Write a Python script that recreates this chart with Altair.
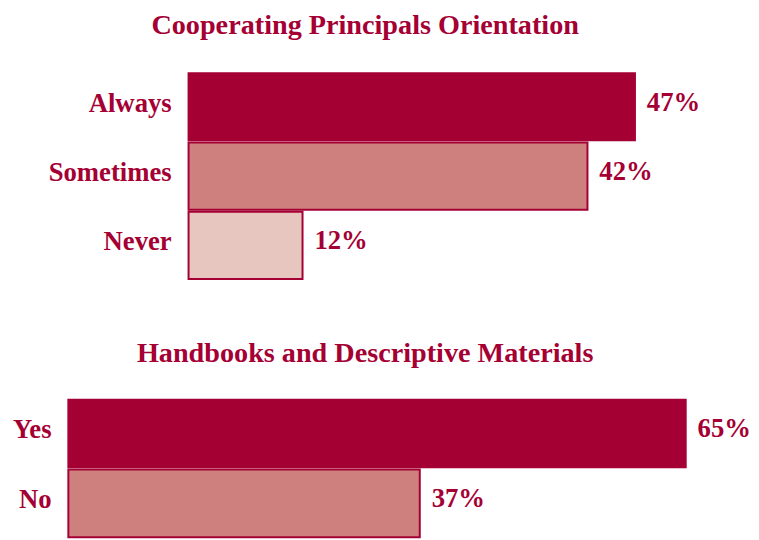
import altair as alt
import pandas as pd

top_title = "Cooperating Principals Orientation"
top_cats = ["Always", "Sometimes", "Never"]
top_vals = [47, 42, 12]

bottom_title = "Handbooks and Descriptive Materials"
bottom_cats = ["Yes", "No"]
bottom_vals = [65, 37]

fills_top = ["#A50034", "#CD807E", "#E8C6C0"]
fills_bottom = ["#A50034", "#CD807E"]

RED = "#A50034"
FONT = "Liberation Serif"
PX = 9.6           # pixels per percentage point
W = 600
D = W / PX
OFF = 121.5 / PX   # top panel bars start further right


def panel(title, cats, vals, fills, xmin, height, offset):
    df = pd.DataFrame({
        "cat": cats,
        "val": vals,
        "base": [0] * len(cats),
        "label": [f"{v}%" for v in vals],
    })
    xs = alt.Scale(domain=[xmin, xmin + D], nice=False, zero=False)
    y = alt.Y("cat:N", sort=cats, scale=alt.Scale(paddingInner=0.03, paddingOuter=0), axis=None)
    base = alt.Chart(df)
    bars = base.mark_bar(stroke=RED, strokeWidth=2).encode(
        x=alt.X("val:Q", scale=xs, axis=None),
        x2="base:Q",
        y=y,
        color=alt.Color("cat:N", scale=alt.Scale(domain=cats, range=fills), legend=None),
    )
    cat_labels = base.mark_text(
        align="right", baseline="middle", dx=-17, dy=-3,
        font=FONT, fontSize=27, fontWeight="bold", color=RED,
    ).encode(x=alt.X("base:Q", scale=xs, axis=None), y=y, text="cat:N")
    pct_labels = base.mark_text(
        align="left", baseline="middle", dx=12, dy=-4,
        font=FONT, fontSize=27, fontWeight="bold", color=RED,
    ).encode(x=alt.X("val:Q", scale=xs, axis=None), y=y, text="label:N")
    return alt.layer(bars, cat_labels, pct_labels).properties(
        width=W,
        height=height,
        title=alt.TitleParams(
            title, font=FONT, fontSize=28.5, fontWeight="bold", color=RED,
            anchor="middle", baseline="alphabetic", offset=offset,
        ),
    )


top = panel(top_title, top_cats, top_vals, fills_top, -OFF, 208, 10)
bottom = panel(bottom_title, bottom_cats, bottom_vals, fills_bottom, 0, 139, 9)

chart = alt.vconcat(top, bottom, spacing=59).configure_view(stroke=None).properties(
    padding={"left": 5, "top": 0, "right": 0, "bottom": 0}
)

chart.save("out.html", embed_options={"renderer": "svg", "actions": False})
